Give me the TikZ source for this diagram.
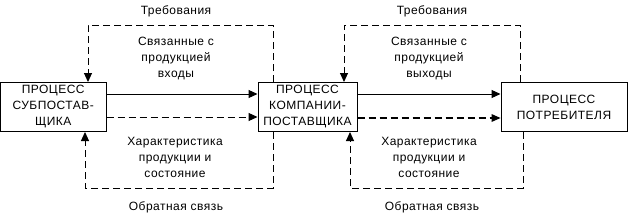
\documentclass[tikz,border=0pt]{standalone}
\usepackage{fontspec}
\setmainfont[LetterSpace=4]{Liberation Sans}
\usetikzlibrary{arrows.meta}
\begin{document}
\begin{tikzpicture}[x=1pt,y=-1pt,
  proc/.style={draw,line width=1pt,minimum width=#1,minimum height=49pt,inner sep=0pt,align=center,font=\fontsize{12}{16}\selectfont},
  lbl/.style={align=center,inner sep=0pt,font=\fontsize{12}{16}\selectfont},
  flow/.style={line width=1pt,-{Triangle[length=9pt,width=8pt]}},
  dflow/.style={line width=1pt,dash pattern=on 7pt off 4pt,-{Triangle[length=9pt,width=8pt]}},
  bflow/.style={line width=2pt,dash pattern=on 7pt off 4pt,-{Triangle[length=9pt,width=8pt,line width=0pt]}},
  loop/.style={line width=1pt,dash pattern=on 7pt off 4pt,-{Triangle[length=9pt,width=8pt]}}]
\useasboundingbox (0,0) rectangle (632,214);
\node[proc=105.5pt] (b1) at (53.25,107) {ПРОЦЕСС\\СУБПОСТАВ-\\ЩИКА};
\node[proc=99pt] (b2) at (307.5,107) {ПРОЦЕСС\\КОМПАНИИ-\\ПОСТАВЩИКА};
\node[proc=126pt] (b3) at (564,107) {ПРОЦЕСС\\ПОТРЕБИТЕЛЯ};
% forward flows
\draw[flow] (b1.east|-0,94) -- (b2.west|-0,94);
\draw[dflow] (b1.east|-0,117) -- (b2.west|-0,117);
\draw[flow] (b2.east|-0,94) -- (b3.west|-0,94);
\draw[bflow] (b2.east|-0,118) -- (b3.west|-0,118);
% requirement loops
\draw[loop] (b2.north-|273,0) -- (273,25) -- (88,25) -- (b1.north-|88,0);
\draw[loop] (b3.north-|520,0) -- (520,25) -- (344,25) -- (b2.north-|344,0);
% feedback loops
\draw[loop] (b2.south-|273,0) -- (273,188) -- (85,188) -- (b1.south-|85,0);
\draw[loop] (b3.south-|523,0) -- (523,188) -- (350,188) -- (b2.south-|350,0);
% labels
\node[lbl] (t1) at (176,11) {Требования};
\node[lbl] (t2) at (432,11) {Требования};
\node[lbl] (i1) at (176,59) {Связанные с\\продукцией\\входы};
\node[lbl] (o2) at (429,59) {Связанные с\\продукцией\\выходы};
\node[lbl] (c1) at (175,157) {Характеристика\\продукции и\\состояние};
\node[lbl] (c2) at (429,157) {Характеристика\\продукции и\\состояние};
\node[lbl] (f1) at (176,207) {Обратная связь};
\node[lbl] (f2) at (432,207) {Обратная связь};
\end{tikzpicture}
\end{document}
